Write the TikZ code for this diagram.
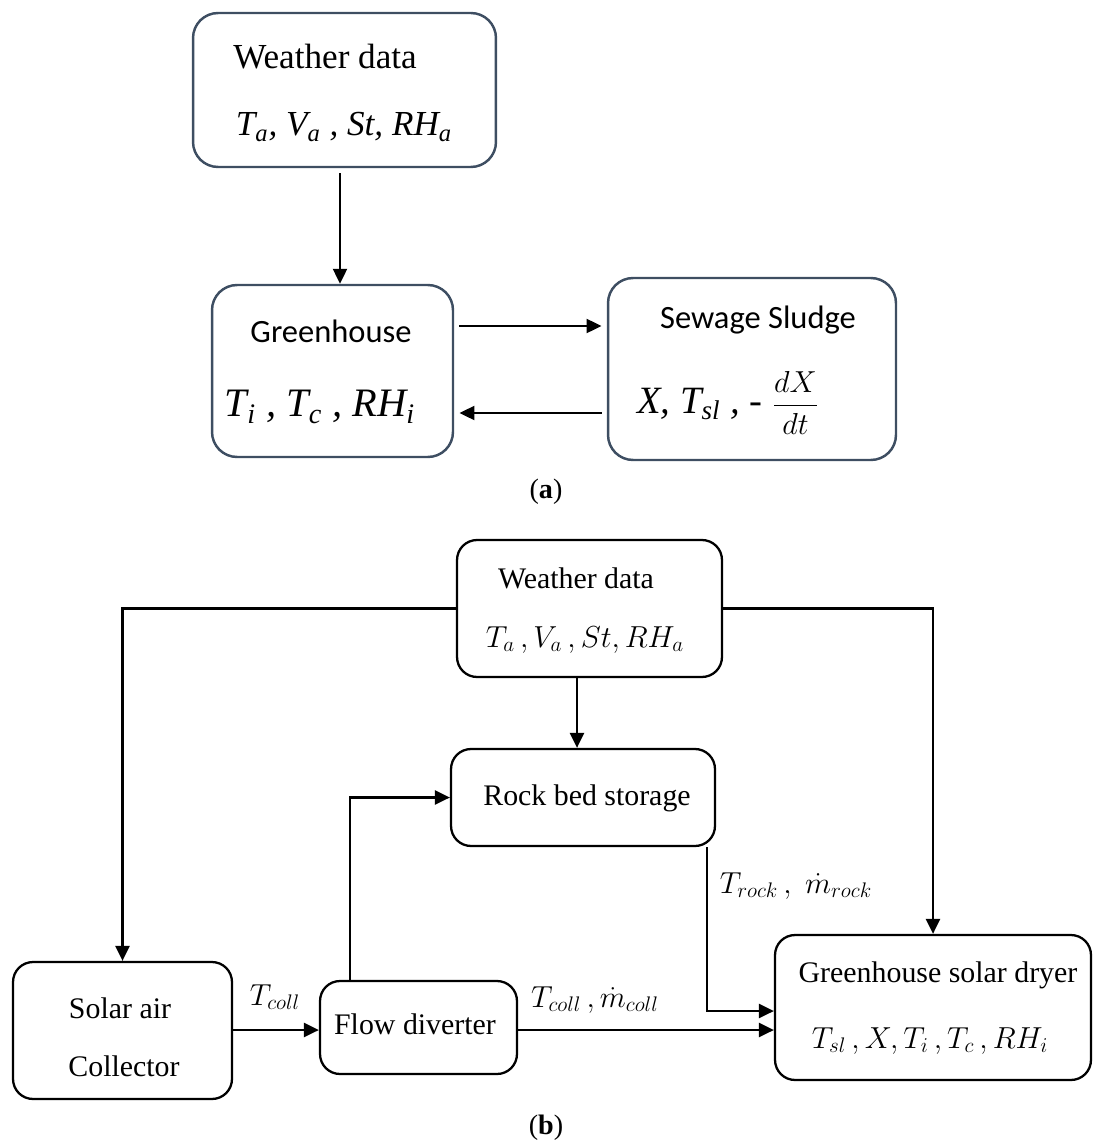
\documentclass[tikz,border=0pt]{standalone}
\usepackage{fontspec}
\setmainfont{Liberation Serif}
\newfontfamily\calibrifont{Carlito}
\usetikzlibrary{arrows.meta}
\definecolor{edgeblue}{RGB}{62,78,98}

\begin{document}
\begin{tikzpicture}[x=0.02cm,y=-0.02cm]
	\tikzstyle{boxa}=[draw=edgeblue,rounded corners=0.5cm,line width=1.4pt,inner sep=0pt]
	\tikzstyle{boxb}=[draw=black,rounded corners=0.4cm,line width=1.3pt,inner sep=0pt]
	\tikzstyle{txta}=[inner sep=0pt,font=\fontsize{20}{24}\selectfont]
	\tikzstyle{txtc}=[inner sep=0pt,font=\calibrifont\fontsize{18.5}{22}\selectfont]
	\tikzstyle{txtb}=[inner sep=0pt,font=\fontsize{17}{20}\selectfont]
	\tikzstyle{arr}=[-{Triangle[length=0.3cm,width=0.28cm]},line width=1.3pt]
	\useasboundingbox (0,0) rectangle (1093,1142);

	% (a)
	\node[boxa,minimum width=6.06cm,minimum height=3.08cm](wa) at (344.5,90) {};
	\node[boxa,minimum width=4.82cm,minimum height=3.44cm](gh) at (332.5,371) {};
	\node[boxa,minimum width=5.76cm,minimum height=3.64cm](ss) at (752,369) {};
	\node[txta](wat) at (325,57) {Weather data};
	\node[txta](waf) at (344,127) {\itshape T\textsubscript{a}, V\textsubscript{a} , St, RH\textsubscript{a}};
	\node[txtc](ght) at (331,331) {Greenhouse};
	\node[txta,font=\fontsize{23}{26}\selectfont](ghf) at (320,407) {\itshape T\textsubscript{i} , T\textsubscript{c} , RH\textsubscript{i}};
	\node[txtc](sst) at (758,320) {Sewage Sludge};
	\node[txta,font=\fontsize{22}{26}\selectfont](ssf) at (728,403) {\itshape X, T\textsubscript{sl} , - \upshape{\fontsize{17}{20}\selectfont$\displaystyle\frac{dX}{dt}$}};
	\node[inner sep=0pt,font=\fontsize{16}{19}\selectfont](capa) at (546,492) {(\textbf{a})};
	\coordinate (xa) at (340,0);
	\coordinate (ya1) at (0,326);
	\coordinate (ya2) at (0,413);
	\draw[arr] ([yshift=-0.1cm]wa.south -| xa) -- (gh.north -| xa);
	\draw[arr,shorten <=3pt,shorten >=3pt] (gh.east |- ya1) -- (ss.west |- ya1);
	\draw[arr,shorten <=3pt,shorten >=3pt] (ss.west |- ya2) -- (gh.east |- ya2);

	% (b)
	\node[boxb,minimum width=5.3cm,minimum height=2.74cm](wb) at (589.5,608.5) {};
	\node[boxb,minimum width=5.28cm,minimum height=1.94cm](rb) at (583,797.5) {};
	\node[boxb,minimum width=4.38cm,minimum height=2.74cm](sc) at (122.5,1030.5) {};
	\node[boxb,minimum width=3.94cm,minimum height=1.86cm](fd) at (418.5,1027.5) {};
	\node[boxb,minimum width=6.32cm,minimum height=2.9cm](gd) at (933,1007.5) {};
	\node[txtb](wbt) at (576,578) {Weather data};
	\node[txtb](wbf) at (585,640) {$T_a\,,V_a\,,St,RH_a$};
	\node[txtb](rbt) at (587,798) {Rock bed storage};
	\node[txtb](sct1) at (120,1008) {Solar air};
	\node[txtb](sct2) at (124,1066) {Collector};
	\node[txtb](fdt) at (415,1024) {Flow diverter};
	\node[txtb](gdt) at (938,975) {Greenhouse solar dryer};
	\node[txtb](gdf) at (930,1041) {$T_{sl}\,,X,T_i\,,T_c\,,RH_i$};
	\node[txtb](lcoll) at (275,997) {$T_{coll}$};
	\node[txtb](lcoll2) at (595,1000) {$T_{coll}\,,\dot m_{coll}$};
	\node[txtb](lrock) at (796,886) {$T_{rock}\,,\;\dot m_{rock}$};
	\node[inner sep=0pt,font=\fontsize{16}{19}\selectfont](capb) at (546,1128) {(\textbf{b})};
	\coordinate (xb) at (577,0);
	\coordinate (xf) at (350,0);
	\coordinate (xr) at (707,0);
	\coordinate (yc) at (0,1030);
	\coordinate (yr) at (0,1011);
	\draw[arr] (wb.west) -| (sc.north);
	\draw[arr] (wb.east) -| (gd.north);
	\draw[arr] (wb.south -| xb) -- (rb.north -| xb);
	\draw[arr] (fd.north -| xf) |- (rb.west);
	\draw[arr] (sc.east |- yc) -- (fd.west |- yc);
	\draw[arr] (fd.east |- yc) -- (gd.west |- yc);
	\draw[arr] (rb.south -| xr) |- (gd.west |- yr);
\end{tikzpicture}
\end{document}
